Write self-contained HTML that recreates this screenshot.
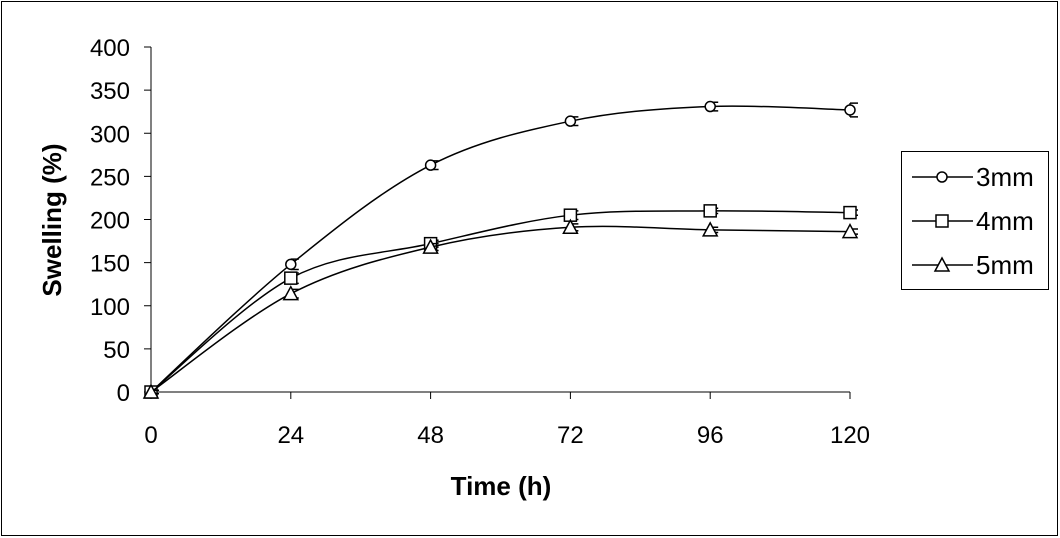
<!DOCTYPE html>
<html><head><meta charset="utf-8"><style>
body{margin:0;background:#fff}
svg{display:block;font-family:"Liberation Sans",Arial,sans-serif}
</style></head><body>
<svg id="c" width="1060" height="538">
<rect x="1.5" y="1.5" width="1056" height="534" fill="#fff" stroke="#000" stroke-width="1"/>
<g id="axes"></g><g id="series"></g>
<text x="501" y="495" font-size="26" font-weight="bold" text-anchor="middle">Time  (h)</text>
<text transform="translate(61,220) rotate(-90)" font-size="26" font-weight="bold" text-anchor="middle">Swelling (%)</text>
<g>
<rect x="901.5" y="151.5" width="147" height="138" fill="#fff" stroke="#000"/>
</g>
<g id="leg"></g>
</svg>
<script>
const categories=[0,24,48,72,96,120];
const seriesNames=["3mm","4mm","5mm"];
const s3=[0,148,263,314,331,327];
const s4=[0,132,172,205,210,208];
const s5=[0,114,168,191,188,186];
const err3=[2,6,5,5,5,8];
const err4=[2,6,4,5,3,3];
const err5=[2,5,4,4,3,3];
const yTicks=[0,50,100,150,200,250,300,350,400];
const NS="http://www.w3.org/2000/svg";
function X(v){return 151+v*(850-151)/120;}
function Y(v){return 392-v*(392-47)/400;}
function mk(tag,attrs,parent){const e=document.createElementNS(NS,tag);for(const k in attrs)e.setAttribute(k,attrs[k]);parent.appendChild(e);return e;}
const axes=document.getElementById('axes');
let a=mk('line',{x1:151,y1:47,x2:151,y2:392,stroke:'#000'},axes);


a=mk('line',{x1:151,y1:392,x2:850,y2:392,stroke:'#000'},axes);


yTicks.forEach(t=>{mk('line',{x1:144,x2:151,y1:Y(t),y2:Y(t),stroke:'#000'},axes);
const tx=mk('text',{x:130,y:Y(t)+9,'font-size':24,'text-anchor':'end'},axes);tx.textContent=t;

});
categories.forEach(c=>{mk('line',{x1:X(c),x2:X(c),y1:392,y2:399,stroke:'#000'},axes);
const tx=mk('text',{x:X(c),y:443,'font-size':24,'text-anchor':'middle'},axes);tx.textContent=c;

});
function smooth(pts){let d=`M${pts[0][0]},${pts[0][1]}`;for(let i=0;i<pts.length-1;i++){const p0=pts[i-1]||pts[i],p1=pts[i],p2=pts[i+1],p3=pts[i+2]||p2;const t=6;
d+=` C${p1[0]+(p2[0]-p0[0])/t},${p1[1]+(p2[1]-p0[1])/t} ${p2[0]-(p3[0]-p1[0])/t},${p2[1]-(p3[1]-p1[1])/t} ${p2[0]},${p2[1]}`;}return d;}
function marker(type,x,y,g){if(type==0)return mk('circle',{cx:x,cy:y,r:5,fill:'#fff',stroke:'#000','stroke-width':1.5},g);
if(type==1)return mk('rect',{x:x-6,y:y-6,width:12,height:12,fill:'#fff',stroke:'#000','stroke-width':1.5},g);
return mk('path',{d:`M${x},${y-7} L${x+7},${y+6} L${x-7},${y+6} Z`,fill:'#fff',stroke:'#000','stroke-width':1.5},g);}
const all=[s3,s4,s5],errs=[err3,err4,err5];
const sg=document.getElementById('series');
all.forEach((s,k)=>{const g=mk('g',{},sg);


const pts=categories.map((c,i)=>[X(c),Y(s[i])]);
mk('path',{d:smooth(pts),fill:'none',stroke:'#000','stroke-width':1.5},g);
categories.forEach((c,i)=>{const x=X(c),e=errs[k][i];
mk('path',{d:`M${x},${Y(s[i]+e)}V${Y(s[i]-e)} M${x},${Y(s[i]+e)}h8 M${x},${Y(s[i]-e)}h8`,stroke:'#000','stroke-width':1.5,fill:'none'},g);
const m=marker(k,x,Y(s[i]),g);

});});
const lg=document.getElementById('leg');
seriesNames.forEach((n,k)=>{const y=177+k*44;const g=mk('g',{},lg);


mk('line',{x1:912,x2:973,y1:y,y2:y,stroke:'#000','stroke-width':1.5},g);
marker(k,942,y,g);
const t=mk('text',{x:976,y:y+9,'font-size':26},g);t.textContent=n;});
</script>
</body></html>
